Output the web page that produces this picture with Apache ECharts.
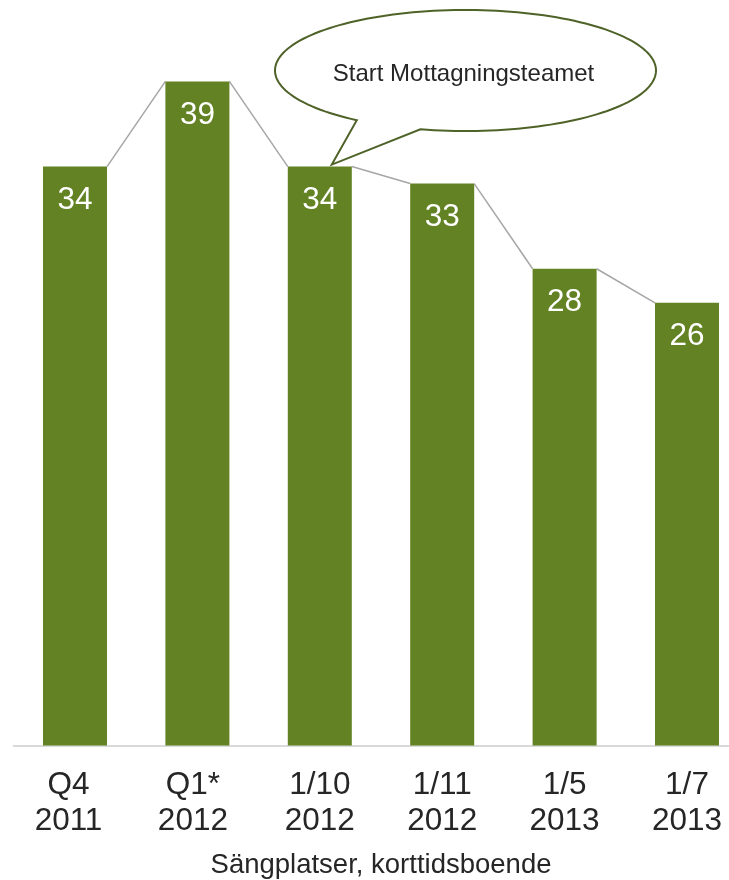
<!DOCTYPE html>
<html>
<head>
<meta charset="utf-8">
<script src="https://cdn.jsdelivr.net/npm/echarts@6/dist/echarts.min.js"></script>
<style>
  html, body { margin: 0; padding: 0; background: #fff; overflow: hidden; }
  #chart { width: 729px; height: 880px; }
</style>
</head>
<body>
<div id="chart"></div>
<script>
// Short-term care bed counts per period
const categories = ['Q4\n2011', 'Q1*\n2012', '1/10\n2012', '1/11\n2012', '1/5\n2013', '1/7\n2013'];
const beds = [34, 39, 34, 33, 28, 26];
const axisTitle = 'Sängplatser, korttidsboende';
const calloutText = 'Start Mottagningsteamet';
const calloutIndex = 2; // the period the callout points at

const FONT = '"Liberation Sans", Arial, Helvetica, sans-serif';
const BAR_COLOR = '#628224';
const BAR_RATIO = 0.523;
const LABEL_COLOR = '#262626';

// connector segments from each bar's top-right corner to the next bar's top-left corner
const connectors = beds.slice(0, -1).map((v, i) => [i, v, beds[i + 1]]);

// the first two category labels sit slightly left of their bar centres
const labelRich = {
  a: { color: LABEL_COLOR, fontFamily: FONT, fontSize: 31.5, lineHeight: 36, padding: [0, 13, 0, 0] },
  b: { color: LABEL_COLOR, fontFamily: FONT, fontSize: 31.5, lineHeight: 36, padding: [0, 9, 0, 0] },
  c: { color: LABEL_COLOR, fontFamily: FONT, fontSize: 31.5, lineHeight: 36 }
};

const chart = echarts.init(document.getElementById('chart'), null, { renderer: 'canvas' });

chart.setOption({
  animation: false,
  backgroundColor: '#ffffff',
  // the plot area runs past the right edge of the canvas, so keep it unclamped
  grid: {
    left: 13.8, width: 734.4, top: 64.4, bottom: 134.5,
    containLabel: false, outerBoundsMode: 'none'
  },
  xAxis: {
    type: 'category',
    data: categories,
    axisLine: { lineStyle: { color: '#d9d9d9', width: 2 } },
    axisTick: { show: false },
    axisLabel: {
      interval: 0,
      hideOverlap: false,
      color: LABEL_COLOR, fontFamily: FONT, fontSize: 31.5, lineHeight: 36, margin: 22,
      formatter: function (value, index) {
        const key = index === 0 ? 'a' : (index === 1 ? 'b' : 'c');
        return value.split('\n').map(line => '{' + key + '|' + line + '}').join('\n');
      },
      rich: labelRich
    },
    name: axisTitle,
    nameLocation: 'middle',
    nameGap: 106,
    nameTextStyle: { color: LABEL_COLOR, fontFamily: FONT, fontSize: 27.5, verticalAlign: 'top' }
  },
  yAxis: {
    type: 'value', min: 0, max: 40,
    show: false,
    splitLine: { show: false }
  },
  series: [
    {
      type: 'custom',
      data: connectors,
      z: 1,
      silent: true,
      renderItem: function (params, api) {
        const i = api.value(0);
        const a = api.coord([i, api.value(1)]);
        const b = api.coord([i + 1, api.value(2)]);
        const half = api.size([1, 0])[0] * BAR_RATIO / 2;
        return {
          type: 'line',
          shape: { x1: a[0] + half, y1: a[1], x2: b[0] - half, y2: b[1] },
          style: { stroke: '#a6a6a6', lineWidth: 1.5 }
        };
      }
    },
    {
      type: 'bar',
      data: beds,
      z: 2,
      barWidth: (BAR_RATIO * 100) + '%',
      itemStyle: { color: BAR_COLOR },
      label: {
        show: true, position: 'insideTop', distance: 18,
        color: '#ffffff', fontFamily: FONT, fontSize: 31.5
      }
    }
  ]
});

// Speech-bubble callout whose tail points at the bar top of the chosen period
(function drawCallout() {
  const tip = chart.convertToPixel({ gridIndex: 0 }, [calloutIndex, beds[calloutIndex]]);
  const tipX = tip[0] + 12, tipY = tip[1] - 2;
  const cx = 465.5, cy = 70.5, rx = 190.5, ry = 60.5;
  const startDeg = 103.7, endDeg = 124.8 - 360;
  const pts = [];
  const steps = 160;
  for (let s = 0; s <= steps; s++) {
    const a = (startDeg + (endDeg - startDeg) * s / steps) * Math.PI / 180;
    pts.push([cx + rx * Math.cos(a), cy + ry * Math.sin(a)]);
  }
  pts.push([tipX, tipY]);
  chart.setOption({
    graphic: [
      {
        type: 'polygon',
        shape: { points: pts },
        style: { fill: '#ffffff', stroke: '#4f6228', lineWidth: 2 },
        z: 10
      },
      {
        type: 'text',
        x: cx - 2, y: cy + 4,
        style: {
          text: calloutText, fill: LABEL_COLOR, font: '24px ' + FONT,
          textAlign: 'center', textVerticalAlign: 'middle'
        },
        z: 11
      }
    ]
  });
})();
</script>
</body>
</html>
